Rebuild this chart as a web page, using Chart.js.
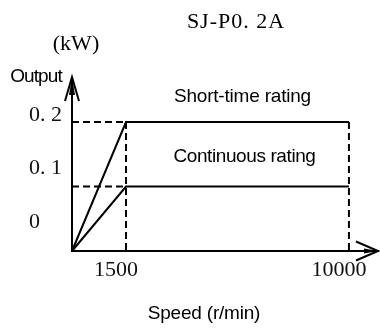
<!DOCTYPE html>
<html>
<head>
<meta charset="utf-8">
<script src="https://cdn.jsdelivr.net/npm/chart.js@4/dist/chart.umd.min.js"></script>
<style>
  html, body { margin: 0; padding: 0; background: #fff; }
  canvas { display: block; }
</style>
</head>
<body>
<canvas id="chart" width="380" height="332"></canvas>
<script>
// ---- data ----
const modelName = 'SJ-P0. 2A';
const speedPoints = [0, 1500, 10000];          // r/min
const shortTimeOutput = [0, 0.2, 0.2];         // kW
const continuousOutput = [0, 0.1, 0.1];        // kW
const speedTicks = [1500, 10000];
const speedTickLabels = ['1500', '10000'];
const outputTicks = [0, 0.1, 0.2];
const outputTickLabels = ['0', '0. 1', '0. 2'];

// ---- schematic speed axis: piecewise-linear between knots ----
const knotValues = [0, 1500, 10000];
const knotFractions = [0, 0.1765, 0.905];

function valueToFraction(v) {
  let i = 0;
  while (i < knotValues.length - 2 && v > knotValues[i + 1]) i++;
  const v0 = knotValues[i], v1 = knotValues[i + 1];
  const f0 = knotFractions[i], f1 = knotFractions[i + 1];
  return f0 + (v - v0) * (f1 - f0) / (v1 - v0);
}
function fractionToValue(f) {
  let i = 0;
  while (i < knotFractions.length - 2 && f > knotFractions[i + 1]) i++;
  const v0 = knotValues[i], v1 = knotValues[i + 1];
  const f0 = knotFractions[i], f1 = knotFractions[i + 1];
  return v0 + (f - f0) * (v1 - v0) / (f1 - f0);
}

class KneeScale extends Chart.LinearScale {
  static id = 'knee';
  getPixelForValue(value) {
    if (value === null || value === undefined) return NaN;
    return this.getPixelForDecimal(valueToFraction(value));
  }
  getValueForPixel(pixel) {
    return fractionToValue(this.getDecimalForPixel(pixel));
  }
}
Chart.register(KneeScale);

function toPoints(xs, ys) { return xs.map((x, i) => ({ x, y: ys[i] })); }

// dashed guides from the knee points to the axes
const kneeSpeed = speedPoints[1];
const topSpeed = speedPoints[2];
const guides = [
  [{ x: 0, y: shortTimeOutput[1] }, { x: kneeSpeed, y: shortTimeOutput[1] }],
  [{ x: 0, y: continuousOutput[1] }, { x: kneeSpeed, y: continuousOutput[1] }],
  [{ x: kneeSpeed, y: shortTimeOutput[1] }, { x: kneeSpeed, y: 0 }],
  [{ x: topSpeed, y: shortTimeOutput[2] }, { x: topSpeed, y: 0 }]
];

const ink = '#000';
const serif = '"Liberation Serif", "DejaVu Serif", serif';
const sans = '"Liberation Sans", Arial, sans-serif';

const guideSets = guides.map(pts => ({
  data: pts,
  borderColor: ink,
  borderWidth: 2,
  borderDash: [7, 4],
  pointRadius: 0,
  tension: 0,
  fill: false,
  clip: false
}));

const curveSets = [shortTimeOutput, continuousOutput].map(ys => ({
  data: toPoints(speedPoints, ys),
  borderColor: ink,
  borderWidth: 2,
  pointRadius: 0,
  tension: 0,
  fill: false,
  clip: false
}));

function arrowHead(ctx, tip, dir, len, half, notch, core) {
  // dir: unit vector pointing toward the tip
  const [dx, dy] = dir;
  const nx = -dy, ny = dx;
  const bx = tip[0] - dx * len, by = tip[1] - dy * len;
  // barbs
  ctx.lineWidth = 2;
  ctx.lineCap = 'butt';
  ctx.lineJoin = 'miter';
  ctx.beginPath();
  ctx.moveTo(bx + nx * half, by + ny * half);
  ctx.lineTo(tip[0], tip[1]);
  ctx.lineTo(bx - nx * half, by - ny * half);
  ctx.stroke();
  // filled core
  ctx.beginPath();
  ctx.moveTo(tip[0], tip[1]);
  ctx.lineTo(tip[0] - dx * notch + nx * core, tip[1] - dy * notch + ny * core);
  ctx.lineTo(tip[0] - dx * notch - nx * core, tip[1] - dy * notch - ny * core);
  ctx.closePath();
  ctx.fill();
}

const decorations = {
  id: 'decorations',
  afterDraw(chart) {
    const { ctx, chartArea, scales } = chart;
    const x = scales.x, y = scales.y;
    ctx.save();
    ctx.fillStyle = ink;
    ctx.strokeStyle = ink;

    // axis arrowheads
    arrowHead(ctx, [chartArea.left, chartArea.top - 1], [0, -1], 24, 7, 18, 3);
    arrowHead(ctx, [chartArea.right, chartArea.bottom], [1, 0], 22, 9.5, 14, 2.5);

    ctx.textAlign = 'center';
    ctx.textBaseline = 'alphabetic';

    // model name and unit
    ctx.font = '22px ' + serif;
    ctx.letterSpacing = '1px';
    ctx.fillText(modelName, 236, 28);
    ctx.letterSpacing = '0px';
    ctx.fillText('(kW)', 76, 50);

    // axis names
    ctx.font = '19px ' + sans;
    ctx.letterSpacing = '-0.9px';
    ctx.fillText('Output', 36, 82);
    ctx.letterSpacing = '-0.2px';
    ctx.fillText('Speed (r/min)', 204, 319);

    // curve names
    const midX = (x.getPixelForValue(kneeSpeed) + x.getPixelForValue(topSpeed)) / 2;
    ctx.fillText('Short-time rating', midX + 5, y.getPixelForValue(shortTimeOutput[2]) - 20);
    ctx.letterSpacing = '-0.4px';
    ctx.fillText('Continuous rating', midX + 7, y.getPixelForValue(continuousOutput[2]) - 24);
    ctx.restore();
  }
};

function dropPadding(scale) {
  scale.paddingLeft = 0; scale.paddingRight = 0;
  scale.paddingTop = 0; scale.paddingBottom = 0;
}

new Chart(document.getElementById('chart'), {
  type: 'line',
  data: { datasets: [...guideSets, ...curveSets] },
  options: {
    responsive: false,
    devicePixelRatio: 1,
    animation: false,
    events: [],
    layout: { padding: { left: 29, top: 78, right: 2, bottom: 0 } },
    plugins: { legend: { display: false }, tooltip: { enabled: false }, title: { display: false } },
    scales: {
      x: {
        type: 'knee',
        min: 0,
        max: 11100,
        grid: { display: false, drawTicks: false },
        border: { display: true, color: ink, width: 2 },
        afterBuildTicks: s => { s.ticks = speedTicks.map(v => ({ value: v })); },
        ticks: {
          autoSkip: false,
          maxRotation: 0,
          padding: 6,
          labelOffset: -10,
          color: '#111',
          font: { family: serif, size: 22 },
          callback: (v, i) => speedTickLabels[i]
        },
        afterFit: s => { s.height = 81; dropPadding(s); }
      },
      y: {
        type: 'linear',
        display: false,
        min: 0,
        max: 0.2682
      },
      yLabels: {
        type: 'linear',
        position: 'left',
        min: -0.0542,
        max: 0.2692,
        grid: { display: false, drawTicks: false },
        border: { display: true, color: ink, width: 2 },
        afterBuildTicks: s => { s.ticks = outputTicks.map(v => ({ value: v })); },
        ticks: {
          crossAlign: 'far',
          padding: 0,
          color: '#111',
          font: { family: serif, size: 22 },
          callback: (v, i) => outputTickLabels[i]
        },
        afterFit: s => { s.width = 43; dropPadding(s); }
      }
    }
  },
  plugins: [decorations]
});
</script>
</body>
</html>
